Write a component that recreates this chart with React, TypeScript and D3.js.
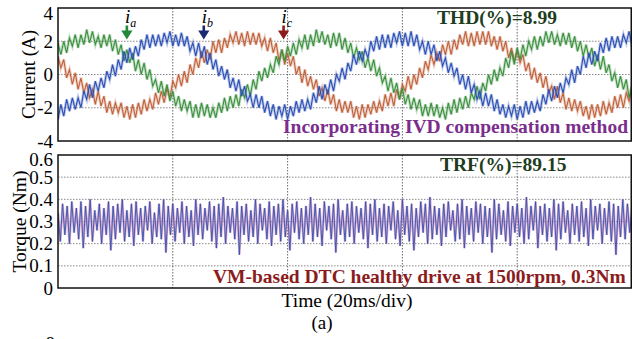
import * as d3 from "d3";

// sampling intervals of the recorded traces (ms)
const CURRENT_STEP_MS = 0.5;
const TORQUE_STEP_MS = 0.4;

// phase currents (A), every 0.5 ms
const currentA = [
  1.9, 1.2, 2.0, 1.3, 2.2, 1.7, 2.4, 1.6, 2.4, 1.8,
  2.7, 1.9, 2.6, 1.8, 2.3, 1.6, 2.4, 1.7, 2.4, 1.4,
  2.1, 1.2, 1.8, 0.8, 1.5, 0.7, 1.3, 0.2, 0.9, 0.0,
  0.7, -0.3, 0.3, -0.7, -0.3, -1.1, -0.4, -1.3, -0.6, -1.6,
  -1.0, -1.9, -1.3, -2.2, -1.5, -2.2, -1.6, -2.6, -1.8, -2.6,
  -1.7, -2.5, -1.8, -2.6, -2.0, -2.6, -1.7, -2.3, -1.4, -2.2,
  -1.3, -2.0, -1.2, -1.9, -0.9, -1.4, -0.6, -1.3, -0.3, -0.9,
  0.2, -0.4, 0.4, -0.2, 0.6, 0.1, 1.1, 0.6, 1.5, 0.8,
  1.7, 1.1, 1.9, 1.2, 2.1, 1.6, 2.4, 1.5, 2.4, 1.7,
  2.7, 1.9, 2.6, 1.8, 2.4, 1.6, 2.5, 1.7, 2.5, 1.5,
  2.2, 1.3, 1.9, 1.0, 1.6, 0.9, 1.4, 0.4, 1.0, 0.2,
  0.9, -0.1, 0.4, -0.5, -0.1, -1.0, -0.2, -1.1, -0.5, -1.5,
  -0.8, -1.8, -1.2, -2.1, -1.4, -2.1, -1.5, -2.5, -1.8, -2.5,
  -1.7, -2.5, -1.8, -2.6, -2.0, -2.7, -1.7, -2.4, -1.5, -2.3,
  -1.4, -2.1, -1.3, -2.0, -1.1, -1.5, -0.7, -1.5, -0.5, -1.0,
  0.0, -0.6, 0.3, -0.4, 0.4, -0.1, 1.0, 0.4, 1.4, 0.6,
  1.6, 0.9, 1.8, 1.1, 2.0, 1.5, 2.3, 1.5, 2.3, 1.7,
  2.6, 1.9, 2.6, 1.8, 2.4, 1.7, 2.5, 1.8, 2.5, 1.6,
  2.3, 1.4, 2.0, 1.1, 1.8, 1.0, 1.6, 0.5, 1.2, 0.3,
  1.1, 0.1, 0.6, -0.4, 0.1, -0.8, -0.1, -0.9, -0.3, -1.4,
  -0.7,
];

const currentB = [
  -2.7, -1.8, -2.5, -1.5, -2.2, -1.4, -2.1, -1.4, -2.0, -1.0,
  -1.5, -0.6, -1.4, -0.4, -1.0, -0.2, -0.8, 0.2, -0.3, 0.6,
  -0.1, 0.9, 0.3, 1.4, 0.7, 1.6, 0.9, 1.7, 1.1, 2.1,
  1.5, 2.4, 1.6, 2.4, 1.7, 2.4, 1.7, 2.5, 1.9, 2.6,
  1.7, 2.4, 1.7, 2.5, 1.7, 2.3, 1.4, 1.9, 1.1, 1.9,
  1.0, 1.7, 0.6, 1.3, 0.3, 0.9, -0.1, 0.5, -0.3, 0.3,
  -0.8, -0.2, -1.0, -0.3, -1.3, -0.7, -1.6, -1.2, -2.0, -1.2,
  -2.0, -1.3, -2.3, -1.6, -2.5, -1.8, -2.7, -1.9, -2.5, -1.8,
  -2.7, -1.9, -2.5, -1.6, -2.3, -1.5, -2.2, -1.5, -2.1, -1.1,
  -1.7, -0.7, -1.5, -0.6, -1.2, -0.3, -1.0, 0.0, -0.4, 0.4,
  -0.3, 0.7, 0.2, 1.2, 0.6, 1.4, 0.8, 1.5, 1.0, 2.0,
  1.4, 2.3, 1.5, 2.4, 1.6, 2.4, 1.6, 2.5, 1.9, 2.6,
  1.7, 2.5, 1.7, 2.6, 1.7, 2.4, 1.5, 2.0, 1.2, 2.0,
  1.2, 1.8, 0.8, 1.4, 0.5, 1.0, 0.1, 0.7, -0.1, 0.4,
  -0.6, 0.0, -0.9, -0.1, -1.1, -0.6, -1.5, -1.0, -1.9, -1.1,
  -1.9, -1.2, -2.2, -1.5, -2.4, -1.8, -2.6, -1.9, -2.5, -1.8,
  -2.7, -1.9, -2.6, -1.6, -2.4, -1.6, -2.3, -1.6, -2.2, -1.2,
  -1.8, -0.9, -1.6, -0.7, -1.4, -0.5, -1.1, -0.2, -0.6, 0.3,
  -0.5, 0.5, 0.0, 1.1, 0.4, 1.3, 0.6, 1.4, 0.8, 1.9,
  1.3, 2.2, 1.4, 2.3, 1.6, 2.3, 1.6, 2.4, 1.9, 2.6,
  1.7,
];

const currentC = [
  1.1, 0.4, 0.9, -0.2, 0.3, -0.6, 0.1, -0.9, -0.2, -1.1,
  -0.5, -1.4, -0.9, -1.8, -1.0, -1.9, -1.3, -2.3, -1.6, -2.4,
  -1.7, -2.3, -1.7, -2.6, -1.9, -2.7, -1.8, -2.6, -1.7, -2.4,
  -1.5, -2.2, -1.5, -2.1, -1.1, -1.8, -1.0, -1.7, -0.8, -1.4,
  -0.4, -0.8, 0.0, -0.7, 0.2, -0.5, 0.6, 0.0, 1.0, 0.4,
  1.4, 0.7, 1.5, 0.9, 2.0, 1.3, 2.1, 1.3, 2.2, 1.6,
  2.4, 1.9, 2.6, 1.8, 2.5, 1.7, 2.6, 1.8, 2.5, 1.8,
  2.5, 1.7, 2.2, 1.4, 2.2, 1.3, 1.9, 0.8, 1.5, 0.6,
  1.3, 0.5, 1.1, 0.0, 0.5, -0.5, 0.3, -0.7, -0.1, -0.9,
  -0.3, -1.3, -0.8, -1.6, -0.9, -1.8, -1.2, -2.2, -1.5, -2.3,
  -1.6, -2.3, -1.6, -2.6, -1.9, -2.7, -1.8, -2.6, -1.8, -2.4,
  -1.6, -2.3, -1.6, -2.2, -1.2, -1.9, -1.1, -1.9, -0.9, -1.5,
  -0.6, -1.0, -0.1, -0.9, 0.0, -0.6, 0.4, -0.2, 0.8, 0.3,
  1.2, 0.6, 1.3, 0.8, 1.8, 1.2, 2.0, 1.2, 2.1, 1.5,
  2.4, 1.8, 2.6, 1.7, 2.5, 1.7, 2.6, 1.8, 2.6, 1.8,
  2.6, 1.7, 2.3, 1.5, 2.3, 1.4, 2.0, 1.0, 1.6, 0.8,
  1.4, 0.7, 1.2, 0.2, 0.7, -0.3, 0.4, -0.5, 0.1, -0.8,
  -0.1, -1.1, -0.7, -1.5, -0.7, -1.7, -1.1, -2.1, -1.4, -2.2,
  -1.5, -2.2, -1.6, -2.5, -1.9, -2.7, -1.8, -2.6, -1.8, -2.5,
  -1.6, -2.4, -1.7, -2.3, -1.3, -2.0, -1.2, -2.0, -1.1, -1.6,
  -0.7,
];

// electromagnetic torque (Nm), every 0.4 ms
const torque = [
  0.34, 0.21, 0.38, 0.24, 0.37, 0.2, 0.39, 0.25, 0.36, 0.22,
  0.39, 0.18, 0.37, 0.23, 0.4, 0.21, 0.35, 0.26, 0.38, 0.2,
  0.36, 0.24, 0.39, 0.17, 0.37, 0.22, 0.38, 0.25, 0.4, 0.21,
  0.35, 0.23, 0.38, 0.19, 0.39, 0.24, 0.36, 0.21, 0.37, 0.26,
  0.39, 0.2, 0.34, 0.23, 0.38, 0.22, 0.4, 0.16, 0.37, 0.24,
  0.38, 0.21, 0.36, 0.25, 0.39, 0.2, 0.37, 0.23, 0.35, 0.19,
  0.4, 0.24, 0.38, 0.22, 0.36, 0.26, 0.39, 0.21, 0.37, 0.18,
  0.38, 0.23, 0.41, 0.2, 0.37, 0.25, 0.36, 0.22, 0.39, 0.15,
  0.37, 0.24, 0.38, 0.21, 0.35, 0.23, 0.4, 0.2, 0.38, 0.26,
  0.36, 0.22, 0.39, 0.19, 0.37, 0.24, 0.38, 0.21, 0.4, 0.23,
  0.35, 0.17, 0.38, 0.25, 0.39, 0.22, 0.36, 0.2, 0.37, 0.24,
  0.41, 0.21, 0.38, 0.23, 0.36, 0.19, 0.39, 0.26, 0.37, 0.22,
  0.38, 0.16, 0.4, 0.24, 0.35, 0.21, 0.38, 0.23, 0.39, 0.2,
  0.37, 0.25, 0.36, 0.22, 0.39, 0.18, 0.38, 0.24, 0.4, 0.21,
  0.36, 0.23, 0.38, 0.2, 0.37, 0.26, 0.39, 0.22, 0.35, 0.19,
  0.4, 0.24, 0.37, 0.21, 0.38, 0.17, 0.36, 0.23, 0.39, 0.25,
  0.38, 0.2, 0.41, 0.22, 0.37, 0.24, 0.36, 0.19, 0.38, 0.23,
  0.39, 0.26, 0.35, 0.21, 0.38, 0.22, 0.4, 0.18, 0.37, 0.24,
  0.36, 0.21, 0.39, 0.25, 0.38, 0.2, 0.37, 0.23, 0.36, 0.16,
  0.4, 0.22, 0.38, 0.24, 0.35, 0.21, 0.39, 0.19, 0.37, 0.25,
  0.38, 0.23, 0.36, 0.2, 0.41, 0.22, 0.37, 0.26, 0.39, 0.18,
  0.37, 0.24, 0.38, 0.21, 0.36, 0.23, 0.4, 0.17, 0.38, 0.22,
  0.39, 0.25, 0.35, 0.2, 0.38, 0.24, 0.37, 0.21, 0.39, 0.23,
  0.36, 0.19, 0.4, 0.22, 0.37, 0.26, 0.38, 0.2, 0.36, 0.24,
  0.39, 0.21, 0.38, 0.15, 0.37, 0.23, 0.4, 0.22, 0.38, 0.25,
  0.36,
];

const currentTicks = [4, 2, 0, -2, -4];
const torqueTicks = [0.6, 0.5, 0.4, 0.3, 0.2, 0.1, 0];
const timeDivs = [20, 40, 60, 80];

const phases = ["a", "b", "c"];
const phaseColors = ["#3c913f", "#2c50b6", "#c1623c"];
const markerColors = ["#23893a", "#1a2a6e", "#8c1c1c"];
const markerTimes = [12, 25.4, 39.3];
const markerLevel = 2.1;

const serif = "'Liberation Serif', 'Times New Roman', serif";

const W = 632;
const H = 339;
const left = 58;
const right = 632;
const top1 = 8;
const bottom1 = 141;
const top2 = 155;
const bottom2 = 288;

export default function App() {
  const x = d3.scaleLinear().domain([0, 100]).range([left, right]);
  const yI = d3.scaleLinear().domain([-4, 4]).range([bottom1, top1]);
  const yT = d3.scaleLinear().domain([0, 0.6]).range([bottom2, top2]);

  const currentLine = d3
    .line<number>()
    .x((_, i) => x(i * CURRENT_STEP_MS))
    .y((d) => yI(d));
  const torqueLine = d3
    .line<number>()
    .x((_, i) => x(i * TORQUE_STEP_MS))
    .y((d) => yT(d));

  const currents = [currentA, currentB, currentC];
  const drawOrder = [2, 0, 1];

  const grid = (y0: number, y1: number, ys: number[]) => (
    <g stroke="#6a6a6a" strokeWidth={0.8} strokeDasharray="1.5,1.5">
      {ys.map((y, i) => (
        <line key={"h" + i} x1={left} x2={right} y1={y} y2={y} />
      ))}
      {timeDivs.map((t) => (
        <line key={"v" + t} x1={x(t)} x2={x(t)} y1={y0} y2={y1} stroke="#444" />
      ))}
    </g>
  );

  return (
    <div style={{ position: "absolute", left: 0, top: 0 }}>
      <svg width={W} height={H} style={{ display: "block", background: "#fff" }}>
        <defs>
          <clipPath id="clipTop">
            <rect x={left} y={top1} width={right - left} height={bottom1 - top1} />
          </clipPath>
          <clipPath id="clipBottom">
            <rect x={left} y={top2} width={right - left} height={bottom2 - top2} />
          </clipPath>
        </defs>

        {/* current panel */}
        {grid(top1, bottom1, currentTicks.slice(1, -1).map((v) => yI(v)))}
        <g clipPath="url(#clipTop)" fill="none">
          {drawOrder.map((p) => (
            <g key={p}>
              <path d={currentLine(currents[p]) || ""} stroke={phaseColors[p]} strokeWidth={3} opacity={0.3} />
              <path d={currentLine(currents[p]) || ""} stroke={phaseColors[p]} strokeWidth={1.1} />
            </g>
          ))}
        </g>
        <rect x={left} y={top1} width={right - 0.75 - left} height={bottom1 - top1} fill="none" stroke="#111" strokeWidth={1.5} />
        {currentTicks.map((v) => (
          <text key={v} x={53} y={Math.min(Math.max(yI(v), top1 + 5), bottom1 + 3)} dy="0.35em" textAnchor="end" fontFamily={serif} fontSize={19}>
            {v}
          </text>
        ))}
        <text transform={`translate(28,${(top1 + bottom1) / 2}) rotate(-90)`} textAnchor="middle" dy="0.35em" fontFamily={serif} fontSize={19}>
          Current (A)
        </text>

        {/* phase markers */}
        {phases.map((p, i) => {
          const mx = x(markerTimes[i]);
          const my = yI(markerLevel);
          return (
            <g key={p}>
              <path
                d={`M${mx - 1.3},${my - 14}h2.6v5h4.3l-5.6,9l-5.6,-9h4.3z`}
                fill={markerColors[i]}
              />
              <text x={mx - 2} y={my - 17} fontFamily={serif} fontStyle="italic" fontSize={19}>
                i
                <tspan fontSize={12} dy={4}>{p}</tspan>
              </text>
            </g>
          );
        })}

        <text x={437} y={24} fontFamily={serif} fontWeight="bold" fontSize={19.5} fill="#1e3d1e">
          THD(%)=8.99
        </text>
        <text x={283} y={133} fontFamily={serif} fontWeight="bold" fontSize={19.5} fill="#7b2d8c">
          Incorporating IVD compensation method
        </text>

        {/* torque panel */}
        {grid(top2, bottom2, torqueTicks.slice(1, -1).map((v) => yT(v)))}
        <g clipPath="url(#clipBottom)" fill="none">
          <path d={torqueLine(torque) || ""} stroke="#c98fbf" strokeWidth={2.4} opacity={0.75} />
          <path d={torqueLine(torque) || ""} stroke="#3452b0" strokeWidth={0.9} />
        </g>
        <rect x={left} y={top2} width={right - 0.75 - left} height={bottom2 - top2} fill="none" stroke="#111" strokeWidth={1.5} />
        {torqueTicks.map((v) => (
          <text key={v} x={53} y={Math.max(yT(v), top2 + 4)} dy="0.35em" textAnchor="end" fontFamily={serif} fontSize={19}>
            {v}
          </text>
        ))}
        <text transform={`translate(19,${(top2 + bottom2) / 2}) rotate(-90)`} textAnchor="middle" dy="0.35em" fontFamily={serif} fontSize={19.5}>
          Torque (Nm)
        </text>

        <text x={440} y={171} fontFamily={serif} fontWeight="bold" fontSize={19.5} fill="#1e3d1e">
          TRF(%)=89.15
        </text>
        <text x={213} y={283} fontFamily={serif} fontWeight="bold" fontSize={19.5} fill="#8b1c1c">
          VM-based DTC healthy drive at 1500rpm, 0.3Nm
        </text>

        <text x={347} y={307} textAnchor="middle" fontFamily={serif} fontSize={19.5}>
          Time (20ms/div)
        </text>
        <text x={322} y={329} textAnchor="middle" fontFamily={serif} fontSize={19}>
          (a)
        </text>
        <text x={55} y={350} textAnchor="end" fontFamily={serif} fontSize={19}>
          8
        </text>
      </svg>
    </div>
  );
}
